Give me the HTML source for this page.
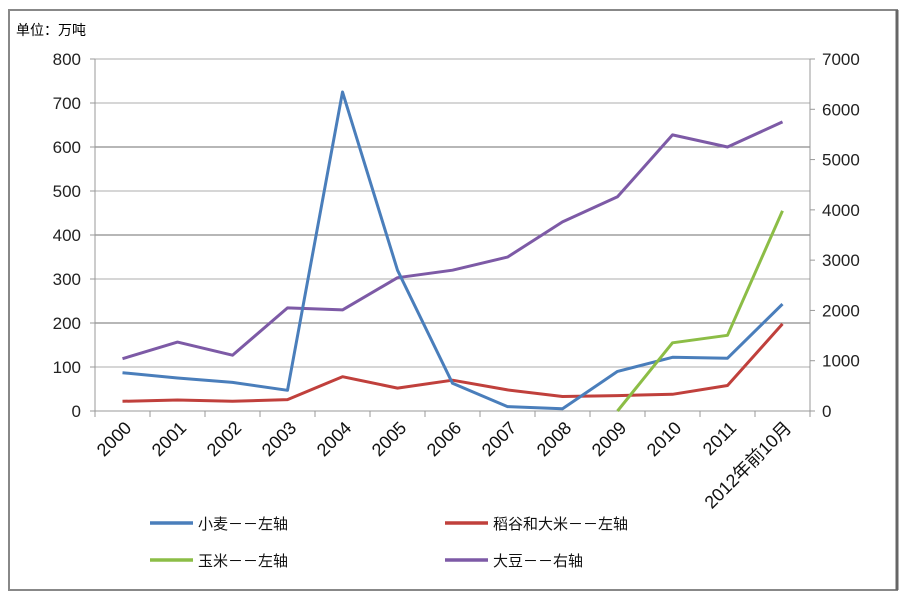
<!DOCTYPE html>
<html><head><meta charset="utf-8"><style>
body{margin:0;background:#fff;font-family:"Liberation Sans","Noto Sans CJK SC",sans-serif;}
svg text{font-family:"Liberation Sans","Noto Sans CJK SC",sans-serif;}
</style></head><body>
<svg id="chart" width="909" height="600" xmlns="http://www.w3.org/2000/svg">
<rect x="0" y="0" width="909" height="600" fill="#fff"/>
<rect x="9" y="10" width="888" height="580" fill="none" stroke="#888" stroke-width="2"/>
<line x1="897" y1="10" x2="897" y2="590" stroke="#666" stroke-width="3"/>
<text x="16" y="35" font-size="14" fill="#000">单位：万吨</text>
<g id="grid"></g><g id="axes"></g><g id="series"></g><g id="legend"></g>
</svg>
<script>
const categories=["2000","2001","2002","2003","2004","2005","2006","2007","2008","2009","2010","2011","2012年前10月"];
const wheat=[87,75,65,47,725,320,63,10,5,90,122,120,243];
const rice=[22,25,22,26,78,52,70,48,33,35,38,58,198];
const corn=[null,null,null,null,null,null,null,null,null,0,155,172,455];
const soybean=[1040,1370,1110,2050,2010,2650,2800,3060,3760,4260,5490,5250,5750];
const leftTicks=[0,100,200,300,400,500,600,700,800];
const rightTicks=[0,1000,2000,3000,4000,5000,6000,7000];
const L=95,R=810,T=59,B=411;
const NS="http://www.w3.org/2000/svg";
const bw=(R-L)/categories.length;
const x=i=>L+bw*(i+0.5);
const yL=v=>B-(v/800)*(B-T);
const yR=v=>B-(v/7000)*(B-T);
function mk(tag,attrs,parent){const e=document.createElementNS(NS,tag);for(const k in attrs)e.setAttribute(k,attrs[k]);document.getElementById(parent).appendChild(e);return e;}
leftTicks.forEach((t,i)=>{
  if(t>0){const g=mk('line',{x1:L,x2:R,y1:yL(t),y2:yL(t),stroke:(t%200===0&&t<=600)?'#8c8c8c':'#bdbdbd','stroke-width':1.2},'grid');
  
  }
  const tx=mk('text',{x:L-14,y:yL(t)+6,'text-anchor':'end','font-size':17,fill:'#222'},'axes');tx.textContent=t;
  
  
  mk('line',{x1:L-5,x2:L,y1:yL(t),y2:yL(t),stroke:'#999'},'axes');
});
rightTicks.forEach(t=>{
  const tx=mk('text',{x:R+12,y:yR(t)+6,'font-size':17,fill:'#222'},'axes');tx.textContent=t;
  
  
  mk('line',{x1:R,x2:R+5,y1:yR(t),y2:yR(t),stroke:'#999'},'axes');
});
let a=mk('line',{x1:L,x2:L,y1:T,y2:B,stroke:'#999'},'axes');


a=mk('line',{x1:R,x2:R,y1:T,y2:B,stroke:'#999'},'axes');


a=mk('line',{x1:L,x2:R,y1:B,y2:B,stroke:'#999'},'axes');


for(let i=0;i<=categories.length;i++){mk('line',{x1:L+bw*i,x2:L+bw*i,y1:B,y2:B+6,stroke:'#999'},'axes');}
categories.forEach((c,i)=>{
  const px=x(i)+10,py=B+18;
  const tx=mk('text',{x:px,y:py,'text-anchor':'end','font-size':18,fill:'#111',transform:`rotate(-45 ${px} ${py})`},'axes');
  tx.textContent=c;
  
  
});
function line(vals,ys,color,name){
  let d='';vals.forEach((v,i)=>{if(v===null)return;d+=(d?'L':'M')+x(i).toFixed(1)+','+ys(v).toFixed(1);});
  const p=mk('path',{d:d,fill:'none',stroke:color,'stroke-width':3,'stroke-linejoin':'round'},'series');
  
  
}
line(soybean,yR,'#7d5aa6','soybean-line');
line(rice,yL,'#c0403c','rice-line');
line(wheat,yL,'#4a7ebb','wheat-line');
line(corn,yL,'#8cbd46','corn-line');
const leg=[["小麦－－左轴",'#4a7ebb',150,523],["稻谷和大米－－左轴",'#c0403c',445,523],["玉米－－左轴",'#8cbd46',150,560],["大豆－－右轴",'#7d5aa6',445,560]];
leg.forEach(l=>{
  const g=mk('line',{x1:l[2],x2:l[2]+43,y1:l[3],y2:l[3],stroke:l[1],'stroke-width':3.5},'legend');
  
  
  const t=mk('text',{x:l[2]+48,y:l[3]+6,'font-size':15,fill:'#111'},'legend');t.textContent=l[0];
  
  
});
</script>
</body></html>
